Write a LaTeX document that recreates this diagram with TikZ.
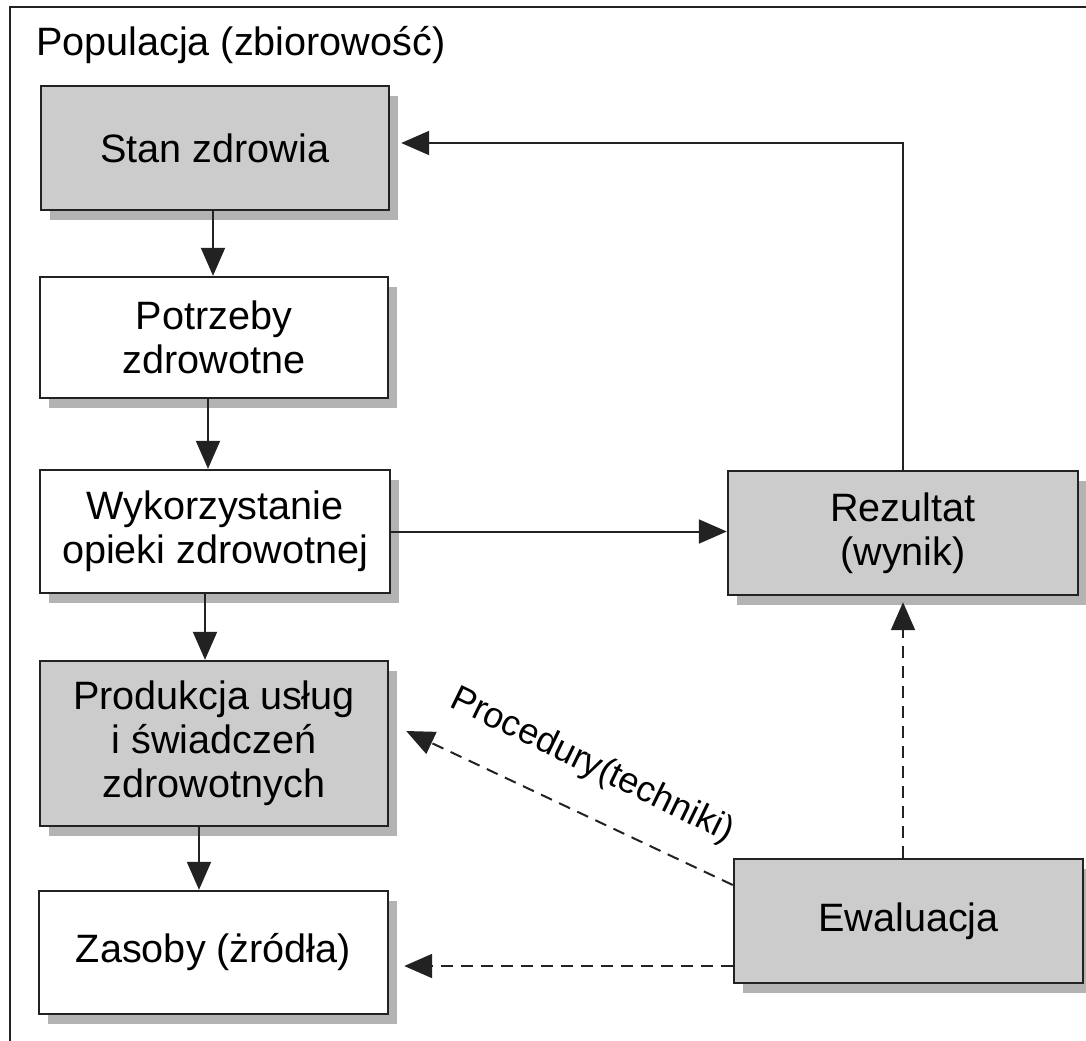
\documentclass[tikz,border=0pt]{standalone}
\usepackage{fontspec}
\setmainfont{Liberation Sans}
\usetikzlibrary{arrows.meta,shadows}
\definecolor{boxgray}{HTML}{CCCCCC}
\definecolor{shadowgray}{HTML}{B3B3B3}
\definecolor{edge}{HTML}{222222}
\begin{document}
\begin{tikzpicture}[x=0.5pt,y=-0.5pt,
  every node/.style={font=\fontsize{19.8pt}{22pt}\selectfont},
  box/.style={draw=edge, line width=1.2pt, fill=white, align=center,
    inner sep=0pt, minimum width=174pt, minimum height=62pt,
    drop shadow={shadow xshift=4.5pt, shadow yshift=-5pt,
      fill=shadowgray, opacity=1}},
  graybox/.style={box, fill=boxgray},
  arr/.style={draw=edge, line width=1pt,
    -{Triangle[length=14pt,width=12pt]}},
  darr/.style={arr, dash pattern=on 6pt off 4pt}]
\useasboundingbox (0,0) rectangle (1086,1040);
\begin{scope}
  \clip (0,0) rectangle (1086,1040);
  \draw[draw=edge, line width=1pt] (10,7) rectangle (1100,1060);
\end{scope}

\node[anchor=base west] (title) at (29,55) {Populacja (zbiorowość)};

% left column
\node[graybox] (stan) at (215,148) {Stan zdrowia};
\node[box, minimum height=60.5pt] (potr) at (214,337.5) {Potrzeby\\zdrowotne};
\node[box, minimum width=175pt, minimum height=61.5pt] (wyk) at (215,531.5)
  {Wykorzystanie\\opieki zdrowotnej};
\node[graybox, minimum height=82.5pt] (prod) at (214,743.5)
  {Produkcja usług\\i świadczeń\\zdrowotnych};
\node[box, minimum width=174.5pt, minimum height=61.5pt] (zas) at (213.5,952.5)
  {Zasoby (żródła)};

% right column
\node[graybox, minimum width=175pt] (rez) at (903,533) {Rezultat\\(wynik)};
\node[graybox, minimum width=174.5pt] (ewa) at (908.5,921) {Ewaluacja};

% main flow
\draw[arr] ([xshift=-1pt]stan.south) -- ([xshift=-1pt]stan.south |- potr.north);
\draw[arr] ([xshift=-3pt]potr.south) -- ([xshift=-3pt]potr.south |- wyk.north);
\draw[arr] ([xshift=-5pt]wyk.south) -- ([xshift=-5pt]wyk.south |- prod.north);
\draw[arr] ([xshift=-7.5pt]prod.south) -- ([xshift=-7.5pt]prod.south |- zas.north);

\draw[arr] (wyk.east) -- (wyk.east -| rez.west);
\coordinate (stantip) at ([xshift=5.5pt,yshift=2.5pt]stan.east);
\draw[arr] (rez.north) |- (stantip);

% evaluation links
\draw[darr, shorten >=3pt] ([xshift=-2.75pt]ewa.north) -- ([xshift=-2.75pt]ewa.north |- rez.south);
\coordinate (prodtip) at ([xshift=8.5pt,yshift=6.25pt]prod.east);
\draw[darr] ([yshift=18pt]ewa.west) -- (prodtip);
\coordinate (zastip) at ([xshift=7.5pt,yshift=-22.5pt]ewa.west -| zas.east);
\draw[darr] ([yshift=-22.5pt]ewa.west) -- (zastip);

\node[rotate=-26, font=\fontsize{18pt}{20pt}\selectfont] (proclbl) at (592,766)
  {Procedury(techniki)};
\end{tikzpicture}
\end{document}
